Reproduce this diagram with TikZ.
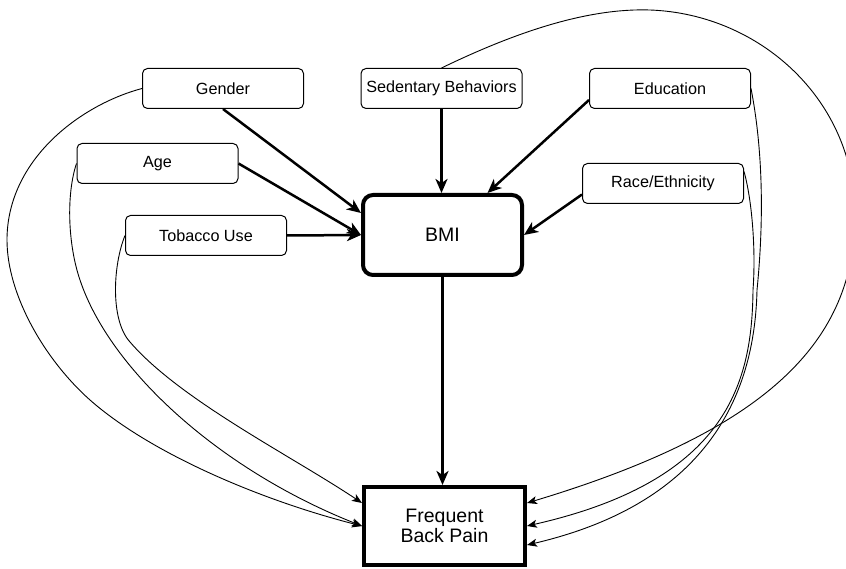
\documentclass[tikz,border=0pt]{standalone}
\usepackage{fontspec}
\setmainfont{Liberation Sans}
\usetikzlibrary{arrows.meta}
\begin{document}
\begin{tikzpicture}[x=1pt,y=-1pt,
  factor/.style={draw, rounded corners=5pt, line width=1pt, minimum width=161pt,
    minimum height=40pt, inner sep=0pt, font=\fontsize{16.2}{19}\selectfont},
  bmibox/.style={draw, rounded corners=10pt, line width=4pt, minimum width=159pt,
    minimum height=80pt, inner sep=0pt, font=\fontsize{19.5}{20}\selectfont},
  outbox/.style={draw, line width=4pt, minimum width=161pt, minimum height=78pt,
    inner sep=0pt, align=center, font=\fontsize{19.5}{19.5}\selectfont},
  toBMI/.style={line width=2.5pt, -{Stealth[length=14pt,width=12pt,inset=4pt]}},
  toPain/.style={line width=0.9pt, -{Stealth[length=10pt,width=8pt,inset=2.5pt]}}]
\useasboundingbox (0,0) rectangle (846,569);

% covariates
\node[factor] (gender) at (223,88.5)   {Gender};
\node[factor] (sed)    at (441.5,88.5) {Sedentary Behaviors};
\node[factor] (edu)    at (670,88.5)   {Education};
\node[factor] (age)    at (157.5,163.5){Age};
\node[factor] (race)   at (663,183.5)  {Race/Ethnicity};
\node[factor] (tob)    at (206,235.5)  {Tobacco Use};

% exposure and outcome
\node[bmibox] (bmi)  at (442.5,235) {BMI};
\node[outbox] (pain) at (444.5,526) {Frequent\\Back Pain};

% paths into BMI
\draw[toBMI] (gender.south) -- ([yshift=22pt]bmi.west);
\draw[toBMI] (age.east) -- (bmi.west);
\draw[toBMI] (tob.east) -- (bmi.west);
\draw[toBMI] (sed.south) -- (sed.south |- bmi.north);
\draw[toBMI] ([yshift=-11.5pt]edu.west) -- ([xshift=45pt]bmi.north);
\draw[toBMI] ([yshift=-11pt]race.west) -- (bmi.east);
\draw[toBMI] (bmi.south) -- (bmi.south |- pain.north);

% direct paths into back pain, left side
\draw[toPain] (gender.west) .. controls (80,105) and (7,160) .. (7,240)
  .. controls (7,295) and (45,360) .. (90,400)
  .. controls (150,453) and (260,500) .. (pain.west);
\draw[toPain] (age.west) .. controls (66,195) and (68,245) .. (80,280)
  .. controls (110,370) and (220,470) .. (pain.west);
\draw[toPain] (tob.west) .. controls (113,265) and (110,320) .. (130,342)
  .. controls (180,400) and (290,455) .. ([yshift=23pt]pain.west);

% direct paths into back pain, right side
\draw[toPain] (sed.north) .. controls (520,30) and (590,8) .. (650,10)
  .. controls (760,14) and (855,100) .. (855,215)
  .. controls (855,340) and (770,430) .. ([yshift=23pt]pain.east);
\draw[toPain] (edu.east) .. controls (763,150) and (764,220) .. (757,290)
  .. controls (755,380) and (720,500) .. ([yshift=-19pt]pain.east);
\draw[toPain] ([yshift=12pt]race.east) .. controls (752,200) and (756,250) .. (753,290)
  .. controls (752,380) and (730,480) .. (pain.east);
\end{tikzpicture}
\end{document}
